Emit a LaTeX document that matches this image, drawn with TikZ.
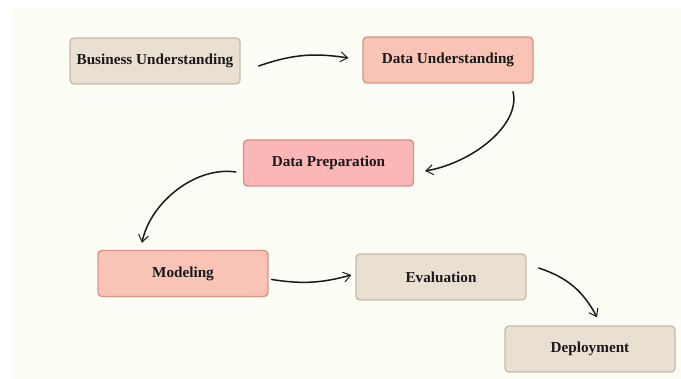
\documentclass[tikz,border=0pt]{standalone}
\usepackage{fontspec}
\setmainfont{Liberation Serif}
\usetikzlibrary{arrows.meta}
\definecolor{cream}{HTML}{FCFDF5}
\definecolor{beigefill}{HTML}{E9DFD3}
\definecolor{beigeline}{HTML}{CABBAA}
\definecolor{salmonfill}{HTML}{F9C4B6}
\definecolor{salmonline}{HTML}{D69586}
\definecolor{pinkfill}{HTML}{FBB6B6}
\definecolor{pinkline}{HTML}{DD8D8F}
\definecolor{inkc}{HTML}{1A1A1A}
\tikzset{
  stage/.style={draw, line width=1.4pt, rounded corners=4pt, minimum width=170pt, minimum height=46pt,
    inner sep=0pt, font=\fontsize{15.2}{18}\selectfont\bfseries, text=inkc},
  beige/.style={stage, fill=beigefill, draw=beigeline},
  salmon/.style={stage, fill=salmonfill, draw=salmonline},
  pinkbox/.style={stage, fill=pinkfill, draw=pinkline},
  arr/.style={draw=inkc, line width=1.5pt, line cap=round, -{Straight Barb[length=7pt,width=10pt,line width=1pt]}}
}
\begin{document}
\begin{tikzpicture}[x=1pt,y=-1pt]
\useasboundingbox (0,0) rectangle (681,379);
\fill[white] (0,0) rectangle (681,379);
\fill[cream] (11,8) rectangle (681,379);
\node[beige]   (bu)  at (155,61)    {Business Understanding};
\node[salmon]  (du)  at (448,60)    {Data Understanding};
\node[pinkbox] (dp)  at (328.5,163) {Data Preparation};
\node[salmon]  (mod) at (183,273.5) {Modeling};
\node[beige]   (ev)  at (441,277)   {Evaluation};
\node[beige]   (dep) at (590,349)   {Deployment};
\draw[arr] ([shift={(18,5)}]bu.east) to[bend left=14] ([shift={(-14,-2)}]du.west);
\draw[arr] ([shift={(65,8)}]du.south) .. controls (521,125) and (472,163) .. ([shift={(11,8)}]dp.east);
\draw[arr] ([shift={(-7,9)}]dp.west) .. controls (195,166) and (150,203) .. ([shift={(-41,-7)}]mod.north);
\draw[arr] ([shift={(3,6)}]mod.east) to[bend right=12] ([shift={(-4,-2)}]ev.west);
\draw[arr] ([shift={(12,-9)}]ev.east) to[bend left=22] ([shift={(7,-8)}]dep.north);
\end{tikzpicture}
\end{document}
